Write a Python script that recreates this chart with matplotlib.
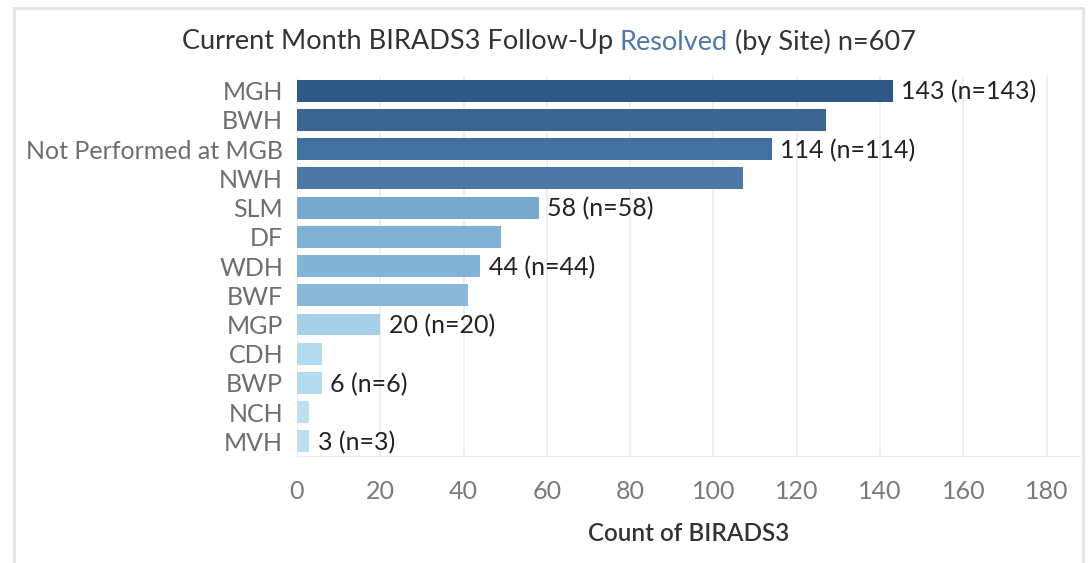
import matplotlib.pyplot as plt
from matplotlib.patches import Rectangle

sites = ["MGH", "BWH", "Not Performed at MGB", "NWH", "SLM", "DF", "WDH",
         "BWF", "MGP", "CDH", "BWP", "NCH", "MVH"]
counts = [143, 127, 114, 107, 58, 49, 44, 41, 20, 6, 6, 3, 3]
colors = ["#2c5985", "#3a6791", "#40709f", "#4a79a8", "#77a9cf", "#7fb0d5",
          "#82b4d8", "#88b9db", "#a6cfe8", "#b4daf0", "#b4daf0", "#bcdff2", "#bcdff2"]
show_label = [True, False, True, False, True, False, True, False, True, False, True, False, True]
xticks = [0, 20, 40, 60, 80, 100, 120, 140, 160, 180]

plt.rcParams['font.family'] = ['Lato', 'DejaVu Sans']

fig = plt.figure(figsize=(10.92, 5.63), dpi=100)
ax = fig.add_axes([297/1092, (563-456)/563, (1080-297)/1092, 380/563])

ypos = list(range(len(sites)))
ax.barh(ypos, counts, height=0.75, color=colors, zorder=3)
for y, c, s in zip(ypos, counts, show_label):
    if s:
        ax.text(c + 2, y + 0.05, f"{c} (n={c})", va="center", ha="left",
                fontsize=18, color="#222222", zorder=4)

ax.set_ylim(len(sites) - 0.5, -0.5)
ax.set_xlim(0, 188)
ax.set_yticks(ypos)
ax.set_yticklabels(sites, fontsize=18, color="#6e6e6e")
ax.set_xticks(xticks)
ax.set_xticklabels([str(t) for t in xticks], fontsize=18, color="#7a7a7a")
ax.tick_params(axis="both", length=0)
ax.tick_params(axis="y", pad=10)
ax.tick_params(axis="x", pad=17)
ax.grid(axis="x", color="#ececec", linewidth=1.2, zorder=0)
for sp in ["top", "right", "left"]:
    ax.spines[sp].set_visible(False)
ax.spines["bottom"].set_color("#ececec")
ax.spines["bottom"].set_zorder(0)
ax.set_xlabel("Count of BIRADS3", fontsize=17.5, color="#333333",
              fontweight="semibold", labelpad=14)

# frame around the view
fig.patches.append(Rectangle((14/1092, -0.1), (1083-14)/1092, 1.1 - 8/563,
                             transform=fig.transFigure, fill=False,
                             edgecolor="#e4e4e4", linewidth=2))

# title with one coloured word
parts = [("Current Month BIRADS3 Follow-Up ", "#333333"),
         ("Resolved", "#4e79a7"),
         (" (by Site) n=607", "#333333")]
fig.canvas.draw()
r = fig.canvas.get_renderer()
texts = []
for s, col in parts:
    t = fig.text(0, 1 - 42/563, s, fontsize=19.5, color=col, va="center", ha="left")
    texts.append(t)
widths = [t.get_window_extent(r).width for t in texts]
x = (549 - sum(widths) / 2)
for t, w in zip(texts, widths):
    t.set_x(x / 1092)
    x += w

fig.savefig("out.png", dpi=100)
